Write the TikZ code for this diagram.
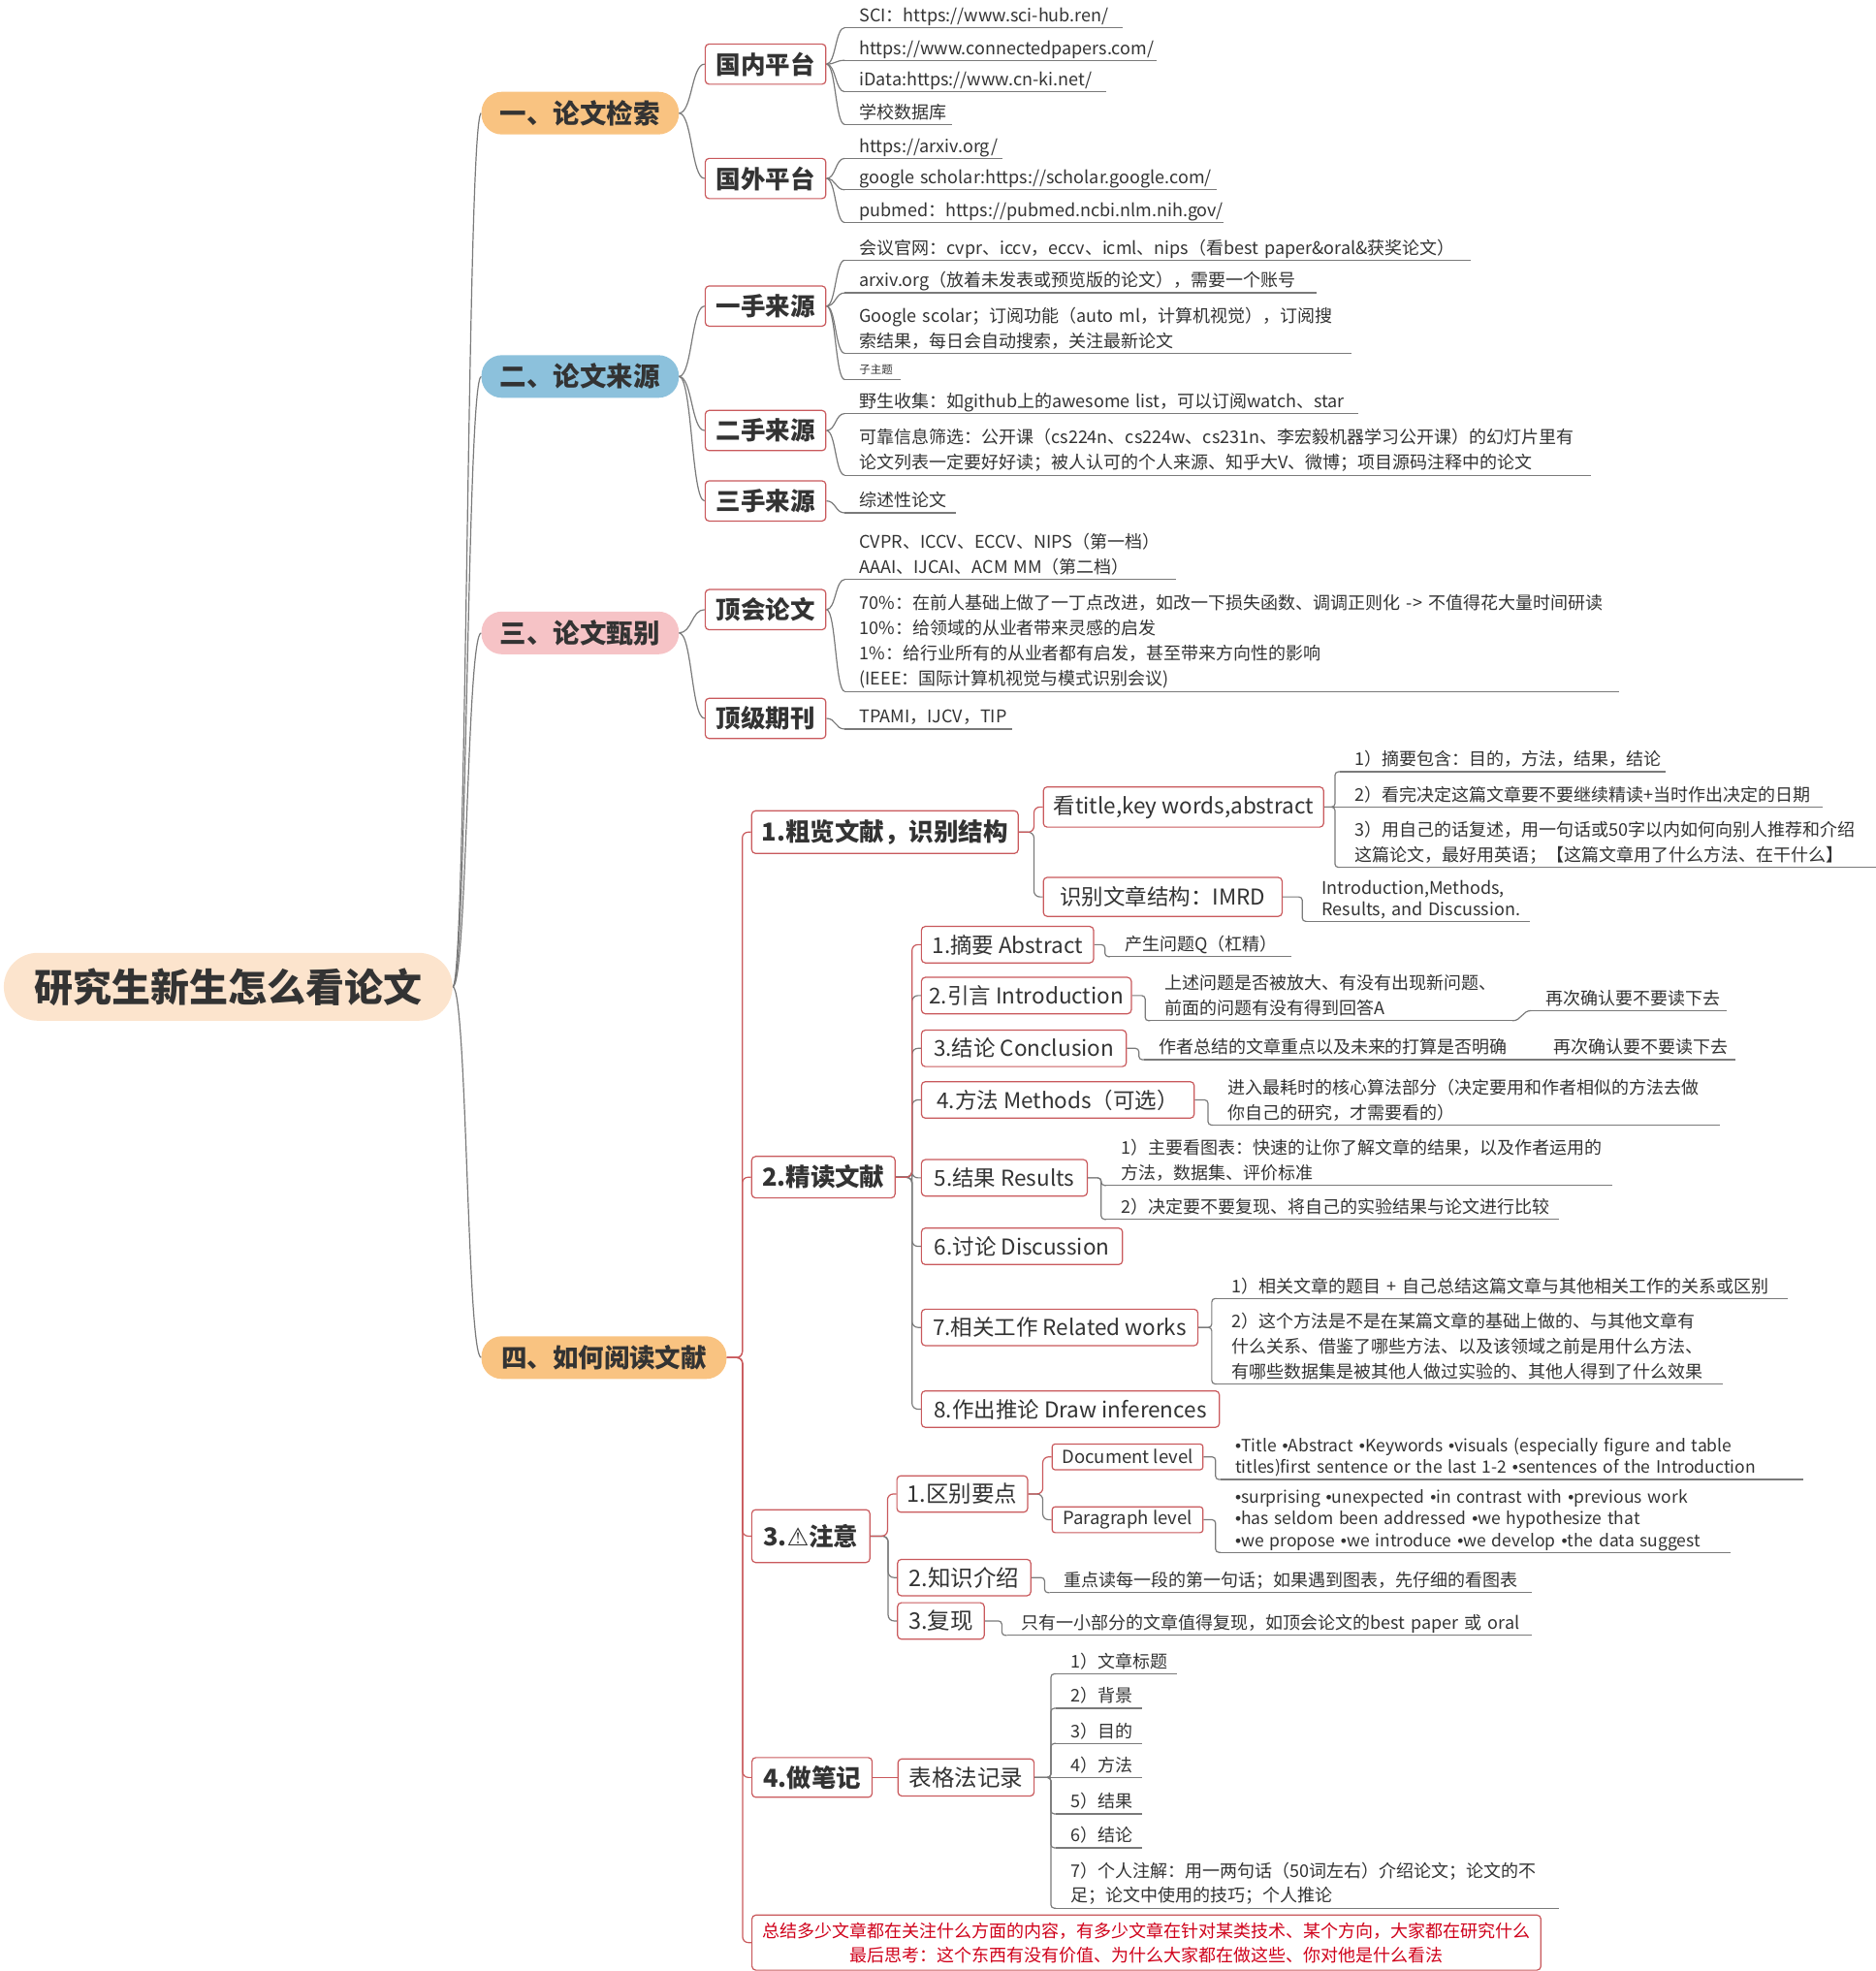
\documentclass[tikz,border=0pt]{standalone}
\usepackage{fontspec}
\setmainfont{Noto Sans CJK SC}
\newfontfamily\symf{DejaVu Sans}
\newfontfamily\latf{Liberation Sans}
\usetikzlibrary{calc}
\definecolor{tc}{HTML}{333333}
\definecolor{boxc}{HTML}{C9595C}
\definecolor{linec}{HTML}{7A7A7A}
\definecolor{orangef}{HTML}{F9C381}
\definecolor{bluef}{HTML}{8CC1DC}
\definecolor{pinkf}{HTML}{F6C3C6}
\definecolor{rootf}{HTML}{FCE4CD}
\definecolor{redt}{HTML}{D0021B}
\pgfdeclarelayer{bg}
\pgfsetlayers{bg,main}
\newcommand\Lx[1]{\mbox{#1}}
\newcommand\bul{{\latf •}}
\newcommand\scurve[3]{\draw[gconn] (#1.east) .. controls +(#3,0) and +(-#3,0) .. (#2);}
\newcommand\elb[3]{\draw[#1, rounded corners=6pt] (#2.east) -| ($(#3.west)+(-7,0)$) -- (#3.west);}
\newcommand\lelb[2]{\draw[gconn, rounded corners=3.5pt] (#1.east) -| ($(#2.south west)+(-4,0)$) -- (#2.south west);}
\begin{document}
\begin{tikzpicture}[x=1.297pt,y=-1.297pt,
  every node/.style={text=tc},
  rootb/.style={fill=rootf, rounded corners=35pt, minimum width=463pt, minimum height=70pt, inner sep=0pt, font=\bfseries\fontsize{40}{46}\selectfont},
  mainb/.style={rounded corners=21pt, minimum width=203.6pt, minimum height=44pt, inner sep=0pt, font=\bfseries\fontsize{27.5}{32}\selectfont},
  sbox/.style={draw=boxc, fill=white, line width=1.2pt, rounded corners=4pt, inner sep=0pt, minimum height=41.5pt, minimum width=124.5pt, font=\bfseries\fontsize{25.5}{30}\selectfont},
  abox/.style={draw=boxc, fill=white, line width=1.2pt, rounded corners=4pt, inner sep=0pt, minimum height=44pt, font=\bfseries\fontsize{25.5}{30}\selectfont},
  cbox/.style={draw=boxc, fill=white, line width=1.2pt, rounded corners=4pt, inner sep=0pt, minimum height=37.6pt, font=\fontsize{22.5}{27}\selectfont},
  dbox/.style={cbox, font=\fontsize{23.5}{28}\selectfont},
  ebox/.style={draw=boxc, fill=white, line width=1.2pt, rounded corners=3pt, inner sep=0pt, minimum height=26.6pt, minimum width=155.6pt, font=\fontsize{18.5}{22}\selectfont},
  leaf/.style={anchor=south west, inner xsep=15pt, inner ysep=0pt, align=left, font=\fontsize{18}{26}\selectfont, execute at end node={\rule[-6pt]{0pt}{6pt}}},
  uline/.style={draw=linec, line width=1.2pt},
  gconn/.style={draw=linec, line width=1.2pt},
  rconn/.style={draw=boxc, line width=1.2pt},
]
\useasboundingbox (0,0) rectangle (1492,1568);

% ---------- root and main branches ----------
\node[rootb] (root) at (181.5,785) {研究生新生怎么看论文};
\node[mainb, fill=orangef] (m1) at (461.5,90) {一、论文检索};
\node[mainb, fill=bluef] (m2) at (461.5,299.5) {二、论文来源};
\node[mainb, fill=pinkf] (m3) at (461.5,503.5) {三、论文甄别};
\node[mainb, fill=orangef, minimum width=252.9pt, font=\bfseries\fontsize{26.5}{32}\selectfont] (m4) at (480.5,1080) {四、如何阅读文献};

% ---------- sections 1-3 ----------
\node[sbox] (s11) at (609,51) {国内平台};
\node[sbox] (s12) at (609,142) {国外平台};
\node[sbox] (s21) at (609,243.5) {一手来源};
\node[sbox] (s22) at (609,342.5) {二手来源};
\node[sbox] (s23) at (609,398.5) {三手来源};
\node[sbox] (s31) at (609,485) {顶会论文};
\node[sbox] (s32) at (609,571.5) {顶级期刊};

\node[leaf, text width=256.6pt] (l1a) at (672,22) {\Lx{SCI：https://www.sci-hub.ren/}};
\node[leaf, text width=291.7pt] (l1b) at (672,48) {\Lx{https://www.connectedpapers.com/}};
\node[leaf, text width=239.8pt] (l1c) at (672,73) {\Lx{iData:https://www.cn-ki.net/}};
\node[leaf, text width=80.2pt] (l1d) at (672,99) {\Lx{学校数据库}};
\node[leaf, text width=132.1pt] (l1e) at (672,126) {\Lx{https://arxiv.org/}};
\node[leaf, text width=353.9pt] (l1f) at (672,151) {\Lx{google scholar:https://scholar.google.com/}};
\node[leaf, text width=360.4pt] (l1g) at (672,177) {\Lx{pubmed：https://pubmed.ncbi.nlm.nih.gov/}};

\node[leaf, text width=615.9pt] (l2a) at (672,207) {\Lx{会议官网：cvpr、iccv，eccv、icml、nips（看best paper\&oral\&获奖论文）}};
\node[leaf, text width=456.4pt] (l2b) at (672,233) {\Lx{arxiv.org（放着未发表或预览版的论文），需要一个账号}};
\node[leaf, text width=492.7pt] (l2c) at (672,281) {\Lx{Google scolar；订阅功能（auto ml，计算机视觉），订阅搜}\\\Lx{索结果，每日会自动搜索，关注最新论文}};
\node[leaf, text width=27.1pt, font=\fontsize{11.5}{14}\selectfont] (l2d) at (672,302) {\Lx{子主题}};
\node[leaf, text width=499.2pt] (l2e) at (672,329) {\Lx{野生收集：如github上的awesome list，可以订阅watch、star}};
\node[leaf, text width=739.1pt] (l2f) at (672,378) {\Lx{可靠信息筛选：公开课（cs224n、cs224w、cs231n、李宏毅机器学习公开课）的幻灯片里有}\\\Lx{论文列表一定要好好读；被人认可的个人来源、知乎大V、微博；项目源码注释中的论文}};
\node[leaf, text width=84.1pt] (l2g) at (672,408) {\Lx{综述性论文}};

\node[leaf, text width=311.1pt] (l3a) at (672,461) {\Lx{CVPR、ICCV、ECCV、NIPS（第一档）}\\\Lx{AAAI、IJCAI、ACM MM（第二档）}};
\node[leaf, text width=769pt] (l3b) at (672,550) {\Lx{70\%：在前人基础上做了一丁点改进，如改一下损失函数、调调正则化 -> 不值得花大量时间研读}\\\Lx{10\%：给领域的从业者带来灵感的启发}\\\Lx{1\%：给行业所有的从业者都有启发，甚至带来方向性的影响}\\\Lx{(IEEE：国际计算机视觉与模式识别会议)}};
\node[leaf, text width=142.5pt] (l3c) at (672,580) {\Lx{TPAMI，IJCV，TIP}};

% ---------- section 4 ----------
\node[abox, minimum width=275pt] (a1) at (704,662) {1.粗览文献，识别结构};
\node[abox, minimum width=147.9pt, minimum height=42.8pt] (a2) at (655,936.5) {2.精读文献};
\node[abox, minimum width=121.9pt, minimum height=54.5pt] (a3) at (645,1222) {3.{\symf\bfseries ⚠}注意};
\node[abox, minimum width=124pt, minimum height=41pt] (a4) at (646,1414) {4.做笔记};

\node[cbox, minimum width=289.2pt, minimum height=41.5pt] (b1) at (941.5,642) {看title,key words,abstract};
\node[cbox, minimum width=246.4pt, minimum height=40.2pt] (b2) at (925,713.5) {识别文章结构：IMRD};

\node[leaf, text width=305.9pt] (l4a) at (1066,614) {\Lx{1）摘要包含：目的，方法，结果，结论}};
\node[leaf, text width=468pt] (l4b) at (1066,642) {\Lx{2）看完决定这篇文章要不要继续精读+当时作出决定的日期}};
\node[leaf, text width=522.5pt] (l4c) at (1066,690) {\Lx{3）用自己的话复述，用一句话或50字以内如何向别人推荐和介绍}\\\Lx{这篇论文，最好用英语；【这篇文章用了什么方法、在干什么】}};
\node[leaf, text width=199.6pt, font=\fontsize{18}{22}\selectfont] (l4d) at (1040,733) {\Lx{Introduction,Methods,}\\\Lx{Results, and Discussion.}};

\node[cbox, minimum width=177.7pt] (c1) at (801.5,751.5) {1.摘要 Abstract};
\node[cbox, minimum width=216.6pt] (c2) at (816.5,792) {2.引言 Introduction};
\node[cbox, minimum width=211.4pt] (c3) at (814.5,834) {3.结论 Conclusion};
\node[cbox, minimum width=281.4pt] (c4) at (841.5,875) {4.方法 Methods（可选）};
\node[cbox, minimum width=171.2pt] (c5) at (799,937) {5.结果 Results};
\node[cbox, minimum width=207.5pt] (c6) at (813,991.5) {6.讨论 Discussion};
\node[cbox, minimum width=285.3pt] (c7) at (843,1056) {7.相关工作 Related works};
\node[cbox, minimum width=307.4pt] (c8) at (851.5,1121) {8.作出推论 Draw inferences};

\node[leaf, text width=156.8pt] (l5a) at (883,761) {\Lx{产生问题Q（杠精）}};
\node[leaf, text width=343.5pt] (l5b) at (915,812) {\Lx{上述问题是否被放大、有没有出现新问题、}\\\Lx{前面的问题有没有得到回答A}};
\node[leaf, text width=171pt] (l5c) at (1218,804) {\Lx{再次确认要不要读下去}};
\node[leaf, text width=361.7pt] (l5d) at (910,843) {\Lx{作者总结的文章重点以及未来的打算是否明确}};
\node[leaf, text width=172.3pt] (l5e) at (1224,843) {\Lx{再次确认要不要读下去}};
\node[leaf, text width=492.7pt] (l5f) at (965,895) {\Lx{进入最耗时的核心算法部分（决定要用和作者相似的方法去做}\\\Lx{你自己的研究，才需要看的）}};
\node[leaf, text width=491.4pt] (l5g) at (880,943) {\Lx{1）主要看图表：快速的让你了解文章的结果，以及作者运用的}\\\Lx{方法，数据集、评价标准}};
\node[leaf, text width=436.9pt] (l5h) at (880,970) {\Lx{2）决定要不要复现、将自己的实验结果与论文进行比较}};
\node[leaf, text width=558.8pt] (l5i) at (968,1033) {\Lx{1）相关文章的题目 + 自己总结这篇文章与其他相关工作的关系或区别}};
\node[leaf, text width=491.4pt] (l5j) at (968,1101) {\Lx{2）这个方法是不是在某篇文章的基础上做的、与其他文章有}\\\Lx{什么关系、借鉴了哪些方法、以及该领域之前是用什么方法、}\\\Lx{有哪些数据集是被其他人做过实验的、其他人得到了什么效果}};

\node[dbox, minimum width=134.9pt] (d1) at (765.5,1188.5) {1.区别要点};
\node[dbox, minimum width=137.5pt] (d2) at (767,1255) {2.知识介绍};
\node[dbox, minimum width=89.5pt] (d3) at (748.5,1289.5) {3.复现};
\node[ebox] (e1) at (897,1159) {Document level};
\node[ebox] (e2) at (897,1209) {Paragraph level};

\node[leaf, text width=570.5pt, font=\fontsize{17.5}{22}\selectfont] (l6a) at (971,1177) {\Lx{\bul Title \bul Abstract \bul Keywords \bul visuals (especially figure and table}\\\Lx{titles)first sentence or the last 1-2 \bul sentences of the Introduction}};
\node[leaf, text width=495.3pt, font=\fontsize{17.5}{22.5}\selectfont] (l6b) at (971,1235) {\Lx{\bul surprising \bul unexpected \bul in contrast with \bul previous work}\\\Lx{\bul has seldom been addressed \bul we hypothesize that}\\\Lx{\bul we propose \bul we introduce \bul we develop \bul the data suggest}};
\node[leaf, text width=466.8pt] (l6c) at (835,1267) {\Lx{重点读每一段的第一句话；如果遇到图表，先仔细的看图表}};
\node[leaf, text width=510.8pt] (l6d) at (801,1301) {\Lx{只有一小部分的文章值得复现，如顶会论文的best paper 或 oral}};

\node[dbox, minimum width=140.5pt, minimum height=38.3pt] (f1) at (768.5,1414) {表格法记录};
\node[leaf, text width=94.5pt] (l7a) at (840,1331.6) {\Lx{1）文章标题}};
\node[leaf, text width=58.2pt] (l7b) at (840,1359) {\Lx{2）背景}};
\node[leaf, text width=58.2pt] (l7c) at (840,1387) {\Lx{3）目的}};
\node[leaf, text width=58.2pt] (l7d) at (840,1414) {\Lx{4）方法}};
\node[leaf, text width=58.2pt] (l7e) at (840,1443) {\Lx{5）结果}};
\node[leaf, text width=58.2pt] (l7f) at (840,1470) {\Lx{6）结论}};
\node[leaf, text width=488.8pt] (l7g) at (840,1518) {\Lx{7）个人注解：用一两句话（50词左右）介绍论文；论文的不}\\\Lx{足；论文中使用的技巧；个人推论}};

\node[draw=boxc, fill=white, line width=1.2pt, rounded corners=4pt, inner sep=0pt, minimum width=814pt, minimum height=56.8pt, align=center, text=redt, font=\fontsize{18}{25}\selectfont] (g) at (912,1545.4) {总结多少文章都在关注什么方面的内容，有多少文章在针对某类技术、某个方向，大家都在研究什么\\最后思考：这个东西有没有价值、为什么大家都在做这些、你对他是什么看法};

% ---------- connectors ----------
\begin{pgfonlayer}{bg}
\foreach \m in {m1,m2,m3,m4} {\scurve{root}{\m.west}{11.5}}
\foreach \a/\b in {m1/s11,m1/s12,m2/s21,m2/s22,m2/s23,m3/s31,m3/s32} {\scurve{\a}{\b.west}{10.5}}
\foreach \a/\b in {s11/l1a,s11/l1b,s11/l1c,s11/l1d,s12/l1e,s12/l1f,s12/l1g,s21/l2a,s21/l2b,s21/l2c,s21/l2d,s22/l2e,s22/l2f,s23/l2g,s31/l3a,s31/l3b,s32/l3c} {\scurve{\a}{\b.south west}{7.5}}

\foreach \b in {a1,a2,a3,a4,g} {\elb{rconn}{m4}{\b}}
\elb{gconn}{a1}{b2}
\elb{rconn}{a1}{b1}
\foreach \b in {c2,c3,c4,c5,c6,c7,c8} {\elb{gconn}{a2}{\b}}
\elb{rconn}{a2}{c1}
\foreach \b in {d2,d3} {\elb{gconn}{a3}{\b}}
\elb{rconn}{a3}{d1}
\elb{gconn}{d1}{e2}
\elb{rconn}{d1}{e1}
\draw[rconn] (a4.east) -- (f1.west);

\foreach \a/\b in {b1/l4a,b1/l4c,b2/l4d,c1/l5a,c2/l5b,c3/l5d,c4/l5f,c5/l5g,c5/l5h,c7/l5i,c7/l5j,e1/l6a,e2/l6b,d2/l6c,d3/l6d,f1/l7a,f1/l7b,f1/l7c,f1/l7e,f1/l7f,f1/l7g} {\lelb{\a}{\b}}
\draw[gconn] (b1.east) -- (l4b.south west);
\draw[gconn] (f1.east) -- (l7d.south west);
\draw[gconn] (l5b.south east) .. controls +(7,0) and +(-7,0) .. (l5c.south west);
\draw[gconn] (l5d.south east) -- (l5e.south west);

\foreach \n in {l1a,l1b,l1c,l1d,l1e,l1f,l1g,l2a,l2b,l2c,l2d,l2e,l2f,l2g,l3a,l3b,l3c,l4a,l4b,l4c,l4d,l5a,l5b,l5c,l5d,l5e,l5f,l5g,l5h,l5i,l5j,l6a,l6b,l6c,l6d,l7a,l7b,l7c,l7d,l7e,l7f,l7g} {\draw[uline] (\n.south west) -- (\n.south east);}
\end{pgfonlayer}
\end{tikzpicture}
\end{document}
